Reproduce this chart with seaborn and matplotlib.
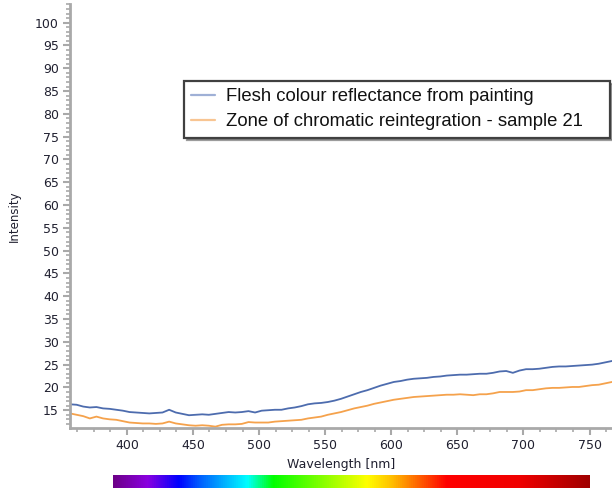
import numpy as np
import pandas as pd
import matplotlib
matplotlib.use("Agg")
import matplotlib.pyplot as plt
import seaborn as sns
from matplotlib.lines import Line2D
from matplotlib.colors import LinearSegmentedColormap
from matplotlib.ticker import MultipleLocator

wavelength = [357, 362, 367, 372, 377, 382, 387, 392, 397, 402, 407, 412, 417, 422, 427,
              432, 437, 442, 447, 452, 457, 462, 467, 472, 477, 482, 487, 492, 497, 502,
              507, 512, 517, 522, 527, 532, 537, 542, 547, 552, 557, 562, 567, 572, 577,
              582, 587, 592, 597, 602, 607, 612, 617, 622, 627, 632, 637, 642, 647, 652,
              657, 662, 667, 672, 677, 682, 687, 692, 697, 702, 707, 712, 717, 722, 727,
              732, 737, 742, 747, 752, 757, 762, 767]

flesh = [16.3, 16.2, 15.8, 15.6, 15.7, 15.4, 15.3, 15.1, 14.9, 14.6, 14.5, 14.4, 14.3, 14.4, 14.5,
         15.1, 14.5, 14.2, 13.9, 14.0, 14.1, 14.0, 14.2, 14.4, 14.6, 14.5, 14.6, 14.8, 14.5, 14.9,
         15.0, 15.1, 15.1, 15.4, 15.6, 15.9, 16.3, 16.5, 16.6, 16.8, 17.1, 17.5, 18.0, 18.5, 19.0,
         19.4, 19.9, 20.4, 20.8, 21.2, 21.4, 21.7, 21.9, 22.0, 22.1, 22.3, 22.4, 22.6, 22.7, 22.8,
         22.8, 22.9, 23.0, 23.0, 23.2, 23.5, 23.6, 23.2, 23.7, 24.0, 24.0, 24.1, 24.3, 24.5, 24.6,
         24.6, 24.7, 24.8, 24.9, 25.0, 25.2, 25.5, 25.8]

zone21 = [14.3, 14.0, 13.7, 13.2, 13.6, 13.2, 13.0, 12.9, 12.6, 12.3, 12.2, 12.1, 12.1, 12.0, 12.1,
          12.5, 12.1, 11.9, 11.7, 11.6, 11.7, 11.6, 11.4, 11.8, 11.9, 11.9, 12.0, 12.4, 12.3, 12.3,
          12.3, 12.5, 12.6, 12.7, 12.8, 12.9, 13.2, 13.4, 13.6, 14.0, 14.3, 14.6, 15.0, 15.4, 15.7,
          16.0, 16.4, 16.7, 17.0, 17.3, 17.5, 17.7, 17.9, 18.0, 18.1, 18.2, 18.3, 18.4, 18.4, 18.5,
          18.4, 18.3, 18.5, 18.5, 18.7, 19.0, 19.0, 19.0, 19.1, 19.4, 19.4, 19.6, 19.8, 19.9, 19.9,
          20.0, 20.1, 20.1, 20.3, 20.5, 20.6, 20.9, 21.2]

labels = ["Flesh colour reflectance from painting",
          "Zone of chromatic reintegration - sample 21"]
x_ticks = [400, 450, 500, 550, 600, 650, 700, 750]
y_ticks = [15, 20, 25, 30, 35, 40, 45, 50, 55, 60, 65, 70, 75, 80, 85, 90, 95, 100]

blue = "#4d6cae"
orange = "#f5a24c"

sns.set_theme(style="white")
plt.rcParams['font.family'] = ['DejaVu Sans']

fig = plt.figure(figsize=(6.12, 4.93), dpi=100)
ax = fig.add_axes([70/612, 1-428/493, 1-70/612, (428-4)/493])

df = pd.DataFrame({"Wavelength": wavelength, "flesh": flesh, "zone": zone21})
sns.lineplot(data=df, x="Wavelength", y="flesh", color=blue, lw=1.3, ax=ax)
sns.lineplot(data=df, x="Wavelength", y="zone", color=orange, lw=1.3, ax=ax)

ax.set_xlim(357, 767)
ax.set_ylim(11.1, 104.1)
ax.set_xticks(x_ticks)
ax.set_yticks(y_ticks)
ax.xaxis.set_minor_locator(MultipleLocator(12.5))
ax.yaxis.set_minor_locator(MultipleLocator(1))

axis_gray = "#a9a9a9"
for s in ["top", "right"]:
    ax.spines[s].set_visible(False)
for s in ["left", "bottom"]:
    ax.spines[s].set_color(axis_gray)
    ax.spines[s].set_linewidth(2)

ax.tick_params(axis="both", which="major", direction="out", length=5, width=1.5,
               color=axis_gray, labelsize=9, labelcolor="#202030", pad=3,
               left=True, bottom=True)
ax.tick_params(axis="both", which="minor", direction="out", length=3, width=1.2,
               color=axis_gray, left=True, bottom=True)

ax.set_xlabel("Wavelength [nm]", fontsize=9, color="#202030", labelpad=4)
ax.set_ylabel("Intensity", fontsize=8.5, color="#202030", labelpad=10)
ax.grid(False)

handles = [Line2D([0], [0], color="#9fb0d6", lw=1.6),
           Line2D([0], [0], color="#f8c592", lw=1.6)]
leg = fig.legend(handles, labels, loc="upper left", mode="expand",
                 bbox_to_anchor=(184/612, 1-138/493, (610-184)/612, (138-81)/493),
                 bbox_transform=fig.transFigure,
                 prop={"family": "Liberation Sans", "size": 13.3},
                 frameon=True, fancybox=False, shadow={"color": "0.45", "alpha": 0.7},
                 handlelength=1.3, handletextpad=0.55, borderpad=0.4, labelspacing=0.42,
                 borderaxespad=0)
leg.get_frame().set_edgecolor("#404040")
leg.get_frame().set_linewidth(1.6)
leg.get_frame().set_facecolor("white")
leg.get_frame().set_alpha(1)
for t in leg.get_texts():
    t.set_color("#111111")

# visible spectrum bar
cax = fig.add_axes([70/612, 1-488/493, 1-70/612, 13/493])
cax.set_xlim(357, 767)
spec_nodes = [389.4, 415, 438.5, 455, 490.7, 510.4, 581.4, 600, 641.9, 697, 750]
spec_cols = ["#6d0088", "#8a00e0", "#0000ff", "#0060ff", "#00ffff", "#00ff00",
             "#ffff00", "#ffc000", "#ff0000", "#f00000", "#a00000"]
pos = [(v - spec_nodes[0]) / (spec_nodes[-1] - spec_nodes[0]) for v in spec_nodes]
cmap = LinearSegmentedColormap.from_list("spec", list(zip(pos, spec_cols)))
grad = np.linspace(0, 1, 512).reshape(1, -1)
cax.imshow(grad, aspect="auto", cmap=cmap, extent=[spec_nodes[0], spec_nodes[-1], 0, 1])
cax.set_xlim(357, 767)
cax.axis("off")

fig.savefig("out.png", dpi=100)
